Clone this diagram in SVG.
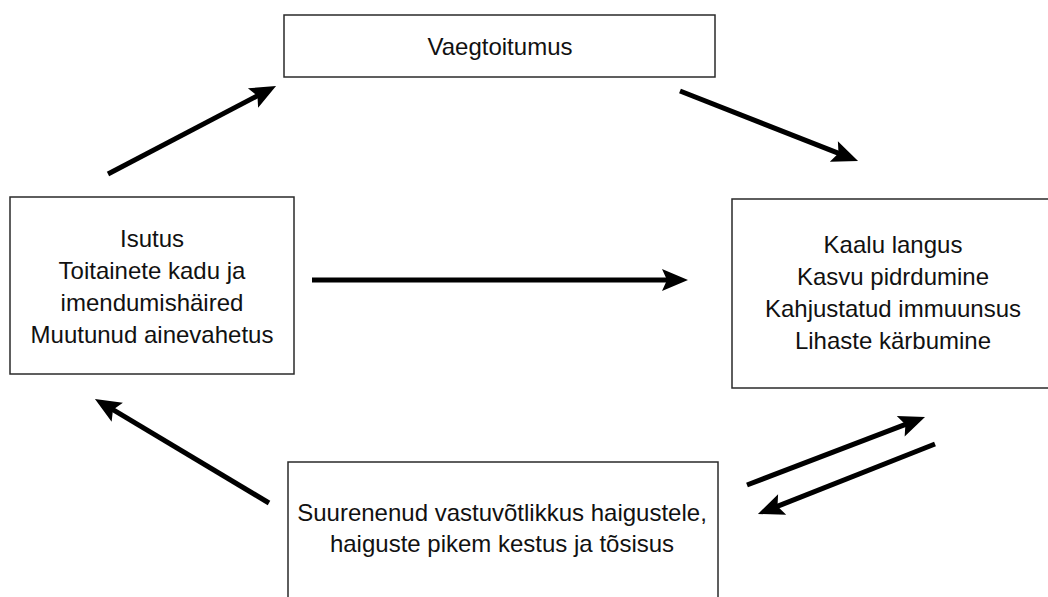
<svg xmlns="http://www.w3.org/2000/svg" width="1048" height="597" viewBox="0 0 1048 597">
<style>
.box{fill:#fff;stroke:#2a2a2a;stroke-width:1.5}
.t{font-family:"Liberation Sans",Arial,sans-serif;font-size:24px;fill:#111;text-anchor:middle}
.c{stroke:#000;stroke-width:5;fill:none;marker-end:url(#ah)}
</style>
<defs>
<marker id="ah" markerUnits="userSpaceOnUse" viewBox="-10 -12 30 24" markerWidth="30" markerHeight="24" refX="0" refY="0" orient="auto" overflow="visible">
<path d="M18,0 L-8,-11 L-3,0 L-8,11 Z" fill="#000"/>
</marker>
</defs>
<rect width="1048" height="597" fill="#fff"/>
<g id="vaegtoitumus">
<rect class="box" x="284" y="15" width="431" height="62"/>
<text class="t" x="500" y="55">Vaegtoitumus</text>
</g>
<g id="isutus">
<rect class="box" x="10" y="197" width="284" height="177"/>
<text class="t" x="152" y="247">Isutus</text>
<text class="t" x="152" y="279">Toitainete kadu ja</text>
<text class="t" x="152" y="311">imendumishäired</text>
<text class="t" x="152" y="343">Muutunud ainevahetus</text>
</g>
<g id="kaalu">
<rect class="box" x="732" y="199" width="330" height="189"/>
<text class="t" x="893" y="253">Kaalu langus</text>
<text class="t" x="893" y="285">Kasvu pidrdumine</text>
<text class="t" x="893" y="317">Kahjustatud immuunsus</text>
<text class="t" x="893" y="349">Lihaste kärbumine</text>
</g>
<g id="haigused">
<rect class="box" x="288" y="462" width="430" height="160"/>
<text class="t" x="502" y="521">Suurenenud vastuvõtlikkus haigustele,</text>
<text class="t" x="502" y="552">haiguste pikem kestus ja tõsisus</text>
</g>
<g id="connectors">
<line class="c" x1="108" y1="174" x2="260.1" y2="94.4"/>
<line class="c" x1="680" y1="91" x2="841.3" y2="154.4"/>
<line class="c" x1="312" y1="280" x2="670" y2="280"/>
<line class="c" x1="747" y1="485" x2="908.2" y2="423.4"/>
<line class="c" x1="935" y1="444" x2="774.7" y2="507.4"/>
<line class="c" x1="269" y1="503" x2="110.4" y2="408.2"/>
</g>
</svg>
